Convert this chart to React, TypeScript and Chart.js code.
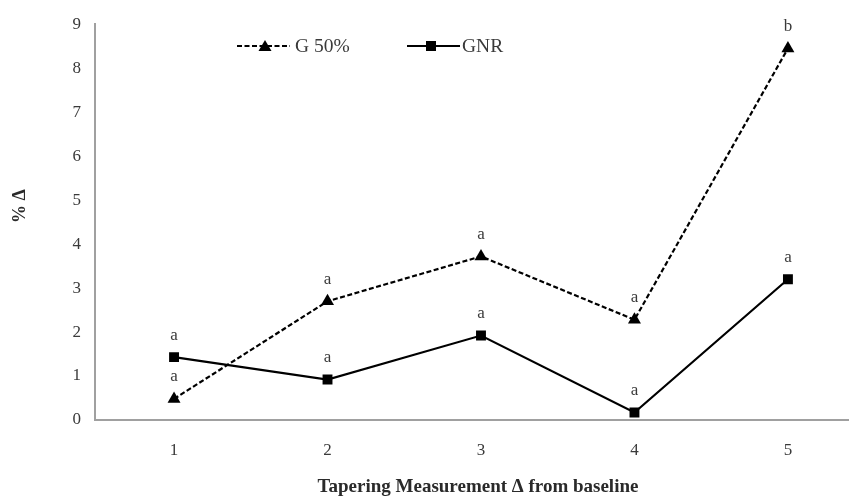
import React, { useEffect, useRef } from "react";
import { Chart, registerables } from "chart.js";

Chart.register(...registerables);

const categories = [1, 2, 3, 4, 5];
const g50Values = [0.48, 2.7, 3.72, 2.28, 8.45];
const gnrValues = [1.43, 0.92, 1.92, 0.17, 3.2];
const g50Letters = ["a", "a", "a", "a", "b"];
const gnrLetters = ["a", "a", "a", "a", "a"];
const seriesNames = ["G 50%", "GNR"];
const yTicks = [0, 1, 2, 3, 4, 5, 6, 7, 8, 9];
const xTitle = "Tapering Measurement Δ from baseline";
const yTitle = "% Δ";

const FONT = "'Liberation Serif', 'DejaVu Serif', serif";
const TEXT = "#3a3a3a";

const letterPlugin = {
  id: "letters",
  afterDatasetsDraw(chart: any) {
    const ctx = chart.ctx;
    ctx.save();
    ctx.font = `17px ${FONT}`;
    ctx.fillStyle = TEXT;
    ctx.textAlign = "center";
    ctx.textBaseline = "middle";
    const letters = [g50Letters, gnrLetters];
    chart.data.datasets.forEach((ds: any, i: number) => {
      const meta = chart.getDatasetMeta(i);
      meta.data.forEach((pt: any, j: number) => {
        ctx.fillText(letters[i][j], pt.x, pt.y - 22);
      });
    });
    ctx.restore();
  },
};

const legendPlugin = {
  id: "customLegend",
  afterDraw(chart: any) {
    const ctx = chart.ctx;
    const area = chart.chartArea;
    ctx.save();
    // extend x axis line to the canvas edge
    ctx.strokeStyle = "#a0a0a0";
    ctx.lineWidth = 2;
    ctx.beginPath();
    ctx.moveTo(area.right - 1, area.bottom);
    ctx.lineTo(chart.width, area.bottom);
    ctx.stroke();

    const y = 46;
    ctx.strokeStyle = "#000";
    ctx.lineWidth = 2.2;
    ctx.setLineDash([5, 2.5]);
    ctx.beginPath();
    ctx.moveTo(237, y);
    ctx.lineTo(290, y);
    ctx.stroke();
    ctx.setLineDash([]);
    ctx.fillStyle = "#000";
    ctx.beginPath();
    ctx.moveTo(265, y - 6);
    ctx.lineTo(271.5, y + 5);
    ctx.lineTo(258.5, y + 5);
    ctx.closePath();
    ctx.fill();
    ctx.beginPath();
    ctx.moveTo(407, y);
    ctx.lineTo(460, y);
    ctx.stroke();
    ctx.fillRect(426, y - 5, 10, 10);
    ctx.font = `19.5px ${FONT}`;
    ctx.fillStyle = TEXT;
    ctx.textBaseline = "middle";
    ctx.textAlign = "left";
    ctx.fillText(seriesNames[0], 295, y + 1);
    ctx.fillText(seriesNames[1], 462, y + 1);
    // axis titles
    ctx.font = `bold 19px ${FONT}`;
    ctx.fillStyle = "#2a2a2a";
    ctx.textAlign = "center";
    ctx.fillText(xTitle, 478, 487);
    ctx.save();
    ctx.translate(20, 206);
    ctx.rotate(-Math.PI / 2);
    ctx.font = `bold 18px ${FONT}`;
    ctx.fillText(yTitle, 0, 0);
    ctx.restore();
    ctx.restore();
  },
};

export default function App() {
  const ref = useRef<HTMLCanvasElement>(null);
  useEffect(() => {
    document.body.style.margin = "0";
    const chart = new Chart(ref.current!, {
      type: "line",
      data: {
        datasets: [
          {
            label: seriesNames[0],
            data: categories.map((c, i) => ({ x: c, y: g50Values[i] })),
            borderColor: "#000",
            backgroundColor: "#000",
            borderWidth: 2.2,
            borderDash: [5, 2.5],
            pointStyle: "triangle",
            pointRadius: 7.5,
            pointBorderWidth: 0,
            pointBackgroundColor: "#000",
            pointBorderColor: "#000",
            tension: 0,
          },
          {
            label: seriesNames[1],
            data: categories.map((c, i) => ({ x: c, y: gnrValues[i] })),
            borderColor: "#000",
            backgroundColor: "#000",
            borderWidth: 2.2,
            pointStyle: "rect",
            pointRadius: 7,
            pointBorderWidth: 0,
            pointBackgroundColor: "#000",
            pointBorderColor: "#000",
            tension: 0,
          },
        ],
      },
      options: {
        responsive: false,
        animation: false,
        layout: { padding: { top: 22, right: 0, left: 0, bottom: 0 } },
        plugins: {
          legend: { display: false },
          tooltip: { enabled: false },
        },
        scales: {
          x: {
            type: "linear",
            min: 0.485,
            max: 5.349,
            afterBuildTicks: (scale: any) => {
              scale.ticks = categories.map((v) => ({ value: v }));
            },
            afterFit: (scale: any) => {
              scale.height = 77;
            },
            grid: { display: false, drawTicks: false },
            border: { color: "#a0a0a0", width: 2 },
            ticks: {
              padding: 20,
              color: TEXT,
              font: { family: FONT, size: 17 },
              callback: (v: any) => String(v),
            },
          },
          y: {
            min: 0,
            max: 9,
            afterBuildTicks: (scale: any) => {
              scale.ticks = yTicks.map((v) => ({ value: v }));
            },
            afterFit: (scale: any) => {
              scale.width = 95;
            },
            grid: { display: false, drawTicks: false },
            border: { color: "#a0a0a0", width: 2 },
            ticks: {
              padding: 14,
              color: TEXT,
              font: { family: FONT, size: 17 },
            },
          },
        },
      },
      plugins: [letterPlugin, legendPlugin],
    } as any);
    return () => chart.destroy();
  }, []);
  return (
    <div style={{ position: "absolute", left: 0, top: 0 }}>
      <canvas ref={ref} width={849} height={497} style={{ display: "block" }} />
    </div>
  );
}
